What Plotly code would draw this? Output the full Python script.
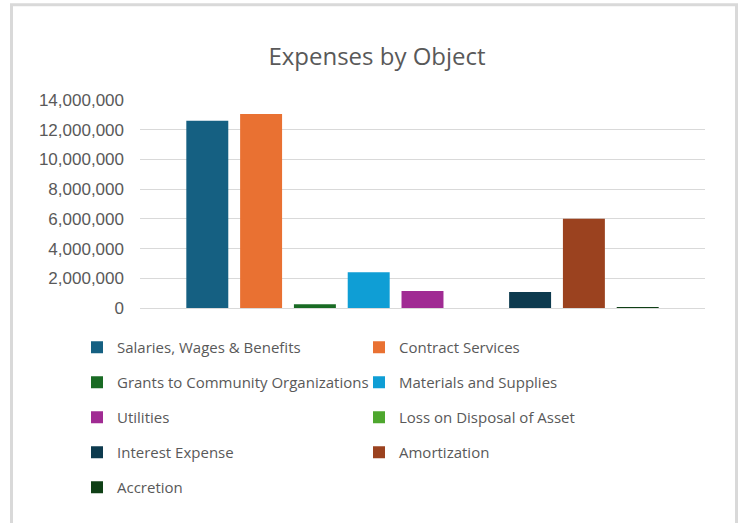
import plotly.graph_objects as go

# Expense categories and amounts (single period, clustered columns)
categories = [
    "Salaries, Wages & Benefits",
    "Contract Services",
    "Grants to Community Organizations",
    "Materials and Supplies",
    "Utilities",
    "Loss on Disposal of Asset",
    "Interest Expense",
    "Amortization",
    "Accretion",
]
amounts = [12600000, 13050000, 250000, 2410000, 1150000, 0, 1080000, 6000000, 50000]
colors = ["#156082", "#E97132", "#196B24", "#0F9ED5", "#A02B93",
          "#4EA72E", "#0D3A4E", "#9B421F", "#0F4016"]
period = ["Expenses"]

y_ticks = [0, 2000000, 4000000, 6000000, 8000000, 10000000, 12000000, 14000000]

W, H = 740, 523
L, R, T, B = 140, 35, 100, 215
pw, ph = W - L - R, H - T - B


def px_x(x):
    return (x - L) / pw


def px_y(y):
    return (H - B - y) / ph


TEXT = "#595959"
fig = go.Figure()
for i, (name, val, col) in enumerate(zip(categories, amounts, colors)):
    fig.add_trace(go.Bar(
        x=period, y=[val], name=name, marker_color=col,
        marker_line_width=0, legendgroup=name,
        legend="legend" if i % 2 == 0 else "legend2",
    ))

legend_common = dict(
    font=dict(family="Open Sans", size=15, color=TEXT),
    orientation="v", traceorder="grouped", tracegroupgap=12.5,
    indentation=-8,
    bgcolor="rgba(0,0,0,0)", yanchor="top", xanchor="left",
    itemclick=False, itemdoubleclick=False,
)

fig.update_layout(
    width=W, height=H,
    margin=dict(l=L, r=R, t=T, b=B),
    paper_bgcolor="white", plot_bgcolor="white",
    title=dict(text="Expenses by Object", x=377 / W, xanchor="center",
               y=1 - 57 / H, yanchor="middle",
               font=dict(family="Open Sans", size=24, color=TEXT)),
    barmode="group", bargap=0.143, bargroupgap=0.22,
    showlegend=True,
    legend=dict(x=px_x(85), y=px_y(331), **legend_common),
    legend2=dict(x=px_x(367), y=px_y(331), **legend_common),
    xaxis=dict(showticklabels=False, showgrid=False, zeroline=False,
               showline=False, ticks=""),
    yaxis=dict(range=[0, 14000000], tickvals=y_ticks, tickformat=",d",
               showgrid=True, gridcolor="#D9D9D9", gridwidth=1,
               zeroline=True, zerolinecolor="#D9D9D9", zerolinewidth=1,
               showline=False, ticks="", ticklen=0, ticklabelstandoff=15,
               tickfont=dict(family="Liberation Sans", size=17, color=TEXT)),
    shapes=[dict(type="rect", xref="paper", yref="paper",
                 x0=px_x(11.5), x1=px_x(736.5), y0=px_y(540), y1=px_y(4.8),
                 line=dict(color="#D9D9D9", width=3), fillcolor="rgba(0,0,0,0)",
                 layer="below")],
)

fig.write_html("out.html")
